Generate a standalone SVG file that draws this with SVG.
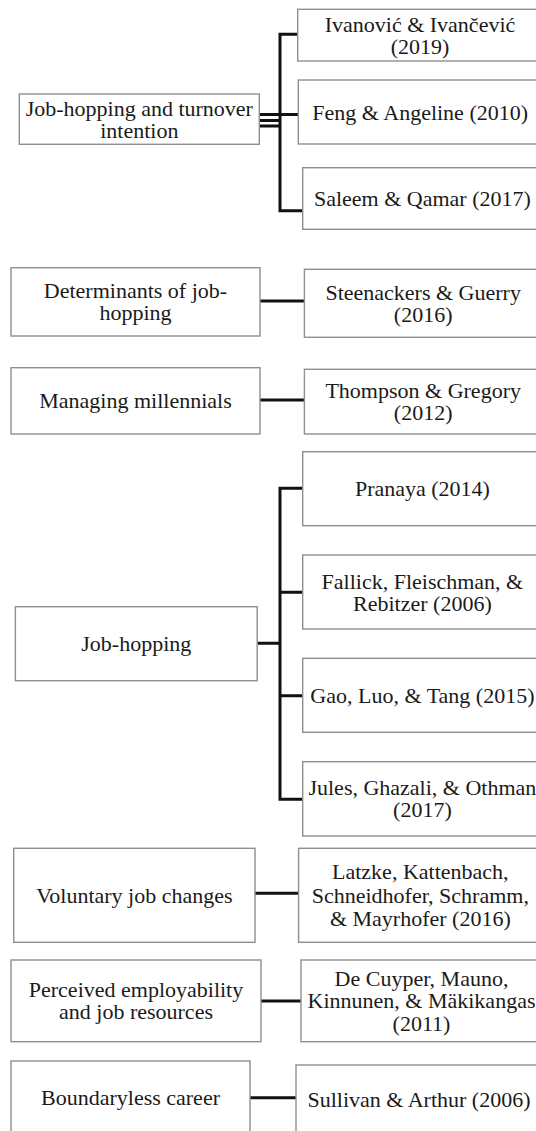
<svg xmlns="http://www.w3.org/2000/svg" width="536" height="1131" viewBox="0 0 536 1131">
<style>
.box{fill:#ffffff;stroke:#8f8f8f;stroke-width:1.4}
.t{font-family:'Liberation Serif',Tinos,'Times New Roman','DejaVu Serif',serif;font-size:22px;fill:#1a1a1a;text-anchor:middle}
.c{stroke:#111111;stroke-width:3;fill:none}
</style>
<rect width="536" height="1131" fill="#ffffff"/>
<g id="connectors">
<path class="c" d="M280 34.3V210.7M278.5 34.3H297.7M278.5 210.7H302.7M260 114.5H298.3M260 120.5H280M260 126H280"/>
<path class="c" d="M260 301H304.4"/>
<path class="c" d="M260 400H304.4"/>
<path class="c" d="M280 488.3V799.3M278.5 488.3H302.7M280 592.3H302.7M280 695.7H302.7M278.5 799.3H302.7M257.2 643.3H280"/>
<path class="c" d="M255 893.3H298.6"/>
<path class="c" d="M261 1001H301"/>
<path class="c" d="M250 1097.7H296"/>
</g>
<g id="n-turnover"><rect class="box" x="19.3" y="94" width="240" height="50.3"/><text class="t" font-family="Liberation Serif, serif"><tspan x="139.3" y="116">Job-hopping and turnover</tspan><tspan x="139.3" y="137.5">intention</tspan></text></g>
<g id="n-ivanovic"><rect class="box" x="297.7" y="9.3" width="250" height="51.7"/><text class="t" font-family="Liberation Serif, serif"><tspan x="420" y="31.7">Ivanović &amp; Ivančević</tspan><tspan x="420" y="53.7">(2019)</tspan></text></g>
<g id="n-feng"><rect class="box" x="298.3" y="80" width="250" height="64"/><text class="t" font-family="Liberation Serif, serif" x="420.2" y="119.5">Feng &amp; Angeline (2010)</text></g>
<g id="n-saleem"><rect class="box" x="302.7" y="167.7" width="250" height="61.6"/><text class="t" font-family="Liberation Serif, serif" x="422.4" y="206">Saleem &amp; Qamar (2017)</text></g>
<g id="n-determinants"><rect class="box" x="11" y="267.7" width="249" height="68.3"/><text class="t" font-family="Liberation Serif, serif"><tspan x="135.5" y="298.3">Determinants of job-</tspan><tspan x="135.5" y="320.3">hopping</tspan></text></g>
<g id="n-steenackers"><rect class="box" x="304.4" y="269.3" width="250" height="68"/><text class="t" font-family="Liberation Serif, serif"><tspan x="423.2" y="299.8">Steenackers &amp; Guerry</tspan><tspan x="423.2" y="321.8">(2016)</tspan></text></g>
<g id="n-managing"><rect class="box" x="11" y="367.7" width="249" height="66.3"/><text class="t" font-family="Liberation Serif, serif" x="135.5" y="408.3">Managing millennials</text></g>
<g id="n-thompson"><rect class="box" x="304.4" y="369.3" width="250" height="64.7"/><text class="t" font-family="Liberation Serif, serif"><tspan x="423.2" y="398">Thompson &amp; Gregory</tspan><tspan x="423.2" y="420">(2012)</tspan></text></g>
<g id="n-jobhopping"><rect class="box" x="15.4" y="606.7" width="241.8" height="74"/><text class="t" font-family="Liberation Serif, serif" x="136.3" y="651.2">Job-hopping</text></g>
<g id="n-pranaya"><rect class="box" x="302.7" y="451.7" width="250" height="74"/><text class="t" font-family="Liberation Serif, serif" x="422.4" y="496.2">Pranaya (2014)</text></g>
<g id="n-fallick"><rect class="box" x="302.7" y="555" width="250" height="74"/><text class="t" font-family="Liberation Serif, serif"><tspan x="422.4" y="588.5">Fallick, Fleischman, &amp;</tspan><tspan x="422.4" y="610.5">Rebitzer (2006)</tspan></text></g>
<g id="n-gao"><rect class="box" x="302.7" y="658.3" width="250" height="74"/><text class="t" font-family="Liberation Serif, serif" x="422.4" y="702.8">Gao, Luo, &amp; Tang (2015)</text></g>
<g id="n-jules"><rect class="box" x="302.7" y="761.7" width="250" height="74.3"/><text class="t" font-family="Liberation Serif, serif"><tspan x="422.4" y="795.3">Jules, Ghazali, &amp; Othman</tspan><tspan x="422.4" y="817.3">(2017)</tspan></text></g>
<g id="n-voluntary"><rect class="box" x="13.7" y="848.3" width="241.3" height="94"/><text class="t" font-family="Liberation Serif, serif" x="134.4" y="902.8">Voluntary job changes</text></g>
<g id="n-latzke"><rect class="box" x="298.6" y="848.3" width="250" height="94"/><text class="t" font-family="Liberation Serif, serif"><tspan x="420.3" y="879.3">Latzke, Kattenbach,</tspan><tspan x="420.3" y="902.7">Schneidhofer, Schramm,</tspan><tspan x="420.3" y="926">&amp; Mayrhofer (2016)</tspan></text></g>
<g id="n-perceived"><rect class="box" x="11" y="960" width="250" height="81.7"/><text class="t" font-family="Liberation Serif, serif"><tspan x="136" y="997.3">Perceived employability</tspan><tspan x="136" y="1019.3">and job resources</tspan></text></g>
<g id="n-decuyper"><rect class="box" x="301" y="960" width="250" height="81.7"/><text class="t" font-family="Liberation Serif, serif"><tspan x="421.5" y="985.5">De Cuyper, Mauno,</tspan><tspan x="421.5" y="1008.3">Kinnunen, &amp; Mäkikangas</tspan><tspan x="421.5" y="1030.5">(2011)</tspan></text></g>
<g id="n-boundaryless"><rect class="box" x="11" y="1061" width="239" height="90"/><text class="t" font-family="Liberation Serif, serif" x="130.5" y="1105">Boundaryless career</text></g>
<g id="n-sullivan"><rect class="box" x="296" y="1065" width="250" height="90"/><text class="t" font-family="Liberation Serif, serif" x="419" y="1107">Sullivan &amp; Arthur (2006)</text></g>
</svg>
